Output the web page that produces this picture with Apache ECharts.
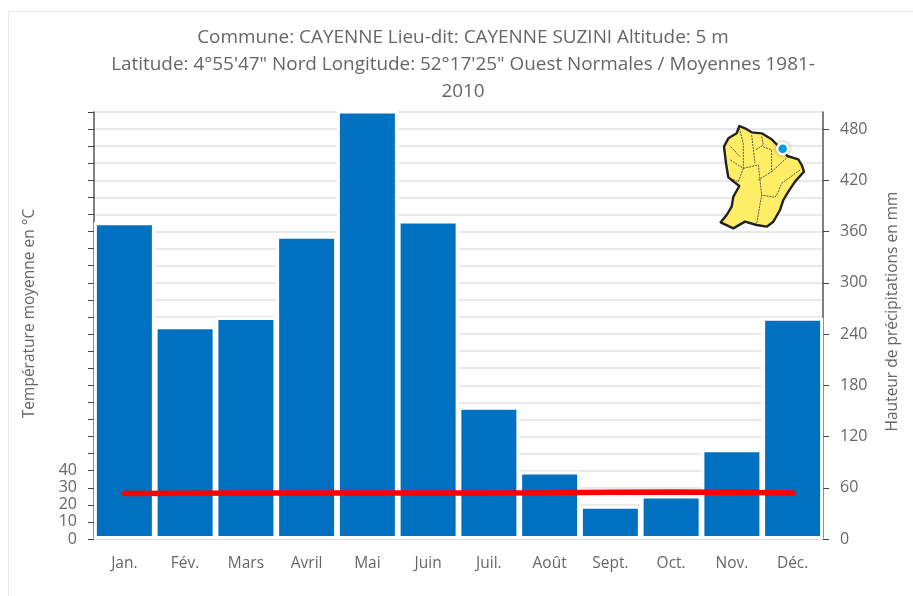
<!DOCTYPE html>
<html><head><meta charset="utf-8">
<style>html,body{margin:0;padding:0;background:#fff}#c{width:913px;height:596px}</style>
<script src="https://cdn.jsdelivr.net/npm/echarts@6/dist/echarts.min.js"></script>
</head><body><div id="c"></div>
<script>
const months = ['Jan.','Fév.','Mars','Avril','Mai','Juin','Juil.','Août','Sept.','Oct.','Nov.','Déc.'];
const precipitation = [371,249,260,355,510,373,155,79,39,51,105,259];
const temperature = [26.7,26.8,26.9,27,27,27,27,27.1,27.3,27.5,27.3,27];
const titleText = 'Commune: CAYENNE Lieu-dit: CAYENNE SUZINI Altitude: 5 m\nLatitude: 4°55\'47" Nord Longitude: 52°17\'25" Ouest Normales / Moyennes 1981-\n2010';
const rightTicks = [0,60,120,180,240,300,360,420,480];
const font = '"Open Sans", sans-serif';
const grey = '#666666';

const mapOutline = [[118,78],[135,85],[155,97],[185,100],[215,118],[232,135],[262,168],[295,178],[305,195],[312,215],[285,245],[265,275],[250,300],[240,330],[220,365],[200,380],[170,375],[135,365],[100,385],[62,367],[80,345],[95,320],[100,290],[118,258],[85,232],[78,190],[72,140],[85,115],[110,100]];
const mapRivers = [
 [[118,85],[130,130],[130,205],[88,178]],
 [[130,205],[175,195],[185,285],[170,370]],
 [[92,140],[120,170]],[[130,205],[115,245],[85,232]],
 [[155,105],[165,190]],[[185,110],[190,135],[165,150]],[[190,140],[215,150],[215,215],[175,240]],
 [[215,215],[262,172]],[[300,210],[245,250],[235,275],[225,292],[185,285]]
];
const toPx = p => [700 + p[0] / 3, 100 + p[1] / 3];

const chart = echarts.init(document.getElementById('c'));
chart.setOption({
  animation:false,
  backgroundColor:'#fff',
  textStyle:{fontFamily:font},
  title:{text:titleText,left:458,top:19,textAlign:'center',
    textStyle:{fontFamily:font,fontSize:18.9,fontWeight:'normal',color:grey,lineHeight:27}},
  grid:{left:94,right:90,top:112,bottom:57,outerBoundsMode:'none'},
  xAxis:{type:'category',data:months,
    axisLine:{lineStyle:{color:'#dddddd',width:2}},axisTick:{show:false},
    axisLabel:{color:grey,fontSize:15.5,margin:17,fontFamily:font}},
  yAxis:[
    {type:'value',min:0,max:250,interval:10,name:'Température moyenne en °C',nameLocation:'middle',nameGap:56,
     nameTextStyle:{color:grey,fontSize:15.5,fontFamily:font,padding:[0,0,0,24]},
     axisLine:{show:true,lineStyle:{color:'#555555',width:1.5}},
     axisTick:{show:true,length:6,lineStyle:{color:'#444444'}},
     axisLabel:{color:grey,fontSize:16,margin:17,fontFamily:font,formatter:v=>v<=40?String(v):''},
     splitLine:{show:true,lineStyle:{color:'#e2e2e2',width:1.5}}},
    {type:'value',min:0,max:500,interval:60,name:'Hauteur de précipitations en mm',nameLocation:'middle',nameGap:62,nameRotate:90,
     nameTextStyle:{color:grey,fontSize:15.5,fontFamily:font,padding:[0,0,0,28]},
     axisLine:{show:true,lineStyle:{color:'#555555',width:1.5}},
     axisTick:{show:true,length:6,customValues:rightTicks,lineStyle:{color:'#444444'}},
     axisLabel:{color:grey,fontSize:16,margin:17,fontFamily:font,customValues:rightTicks},
     splitLine:{show:false}}
  ],
  series:[
    {type:'bar',yAxisIndex:1,data:precipitation,barWidth:61,barCategoryGap:0,
     itemStyle:{color:'#0070C0',borderColor:'#ffffff',borderWidth:3},z:2},
    {type:'line',yAxisIndex:0,data:temperature,symbol:'none',
     lineStyle:{color:'#FF0000',width:5.5,cap:'round'},z:5}
  ],
  graphic:[
    {type:'rect',silent:true,z:-10,shape:{x:8.5,y:11.5,width:1000,height:1000},style:{fill:'#fff',stroke:'#e8e8e8',lineWidth:1}},
    {type:'polygon',z:20,shape:{points:mapOutline.map(toPx)},style:{fill:'#FFEE66',stroke:'#222222',lineWidth:2.4,lineJoin:'round'}},
    ...mapRivers.map(r=>({type:'polyline',z:21,shape:{points:r.map(toPx)},style:{fill:null,stroke:'#444444',lineWidth:0.9,lineDash:[2,1]}})),
    {type:'circle',z:22,shape:{cx:782.7,cy:148.7,r:5.5},style:{fill:'#00AEEF',stroke:'#ffffff',lineWidth:2.5,shadowBlur:4,shadowColor:'rgba(0,0,0,0.3)'}}
  ]
});
</script></body></html>
